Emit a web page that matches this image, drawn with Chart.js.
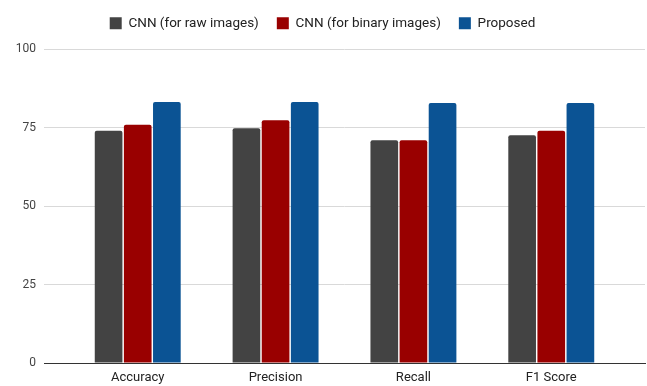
<!DOCTYPE html>
<html>
<head>
<meta charset="utf-8">
<script src="https://cdn.jsdelivr.net/npm/chart.js@4/dist/chart.umd.min.js"></script>
<style>
  html, body { margin: 0; padding: 0; background: #fff; }
  #wrap { position: relative; width: 647px; height: 386px; }
</style>
</head>
<body>
<div id="wrap"><canvas id="bar-chart"></canvas></div>
<script>
// metrics per model
const categories = ['Accuracy', 'Precision', 'Recall', 'F1 Score'];
const cnnRaw = [74.0, 74.8, 70.9, 72.5];
const cnnBinary = [75.9, 77.3, 70.9, 74.0];
const proposed = [83.1, 83.1, 82.8, 82.8];
const yTicks = [0, 25, 50, 75, 100];

// x is a linear axis so the groups can sit further in from the plot edges
const toPoints = (arr) => arr.map((v, i) => ({ x: i, y: v }));
const xPad = 0.68;

// extra room between the legend and the plot
const legendGap = {
  id: 'legendGap',
  afterInit(chart) {
    const legend = chart.legend;
    const fit = legend.fit.bind(legend);
    legend.fit = function () {
      fit();
      this.height += 9;
    };
  },
};

Chart.defaults.font.family = 'Roboto, Arial, sans-serif';
Chart.defaults.font.size = 13;

const ctx = document.getElementById('bar-chart').getContext('2d');
new Chart(ctx, {
  type: 'bar',
  data: {
    datasets: [
      { label: 'CNN (for raw images)', data: toPoints(cnnRaw), backgroundColor: '#434343' },
      { label: 'CNN (for binary images)', data: toPoints(cnnBinary), backgroundColor: '#990000' },
      { label: 'Proposed', data: toPoints(proposed), backgroundColor: '#0b5394' },
    ],
  },
  plugins: [legendGap],
  options: {
    responsive: true,
    maintainAspectRatio: false,
    animation: false,
    datasets: {
      bar: {
        categoryPercentage: 0.634,
        barPercentage: 0.95,
        borderRadius: { topLeft: 2, topRight: 2 },
        borderSkipped: 'start',
      },
    },
    layout: { padding: { top: -1.5, right: 2, bottom: 0, left: 0 } },
    plugins: {
      legend: {
        position: 'top',
        align: 'center',
        labels: {
          color: '#222',
          boxWidth: 12,
          boxHeight: 12,
          padding: 18,
          font: { size: 13.5 },
        },
      },
      tooltip: { enabled: false },
    },
    scales: {
      x: {
        type: 'linear',
        offset: false,
        min: -xPad,
        max: categories.length - 1 + xPad,
        afterBuildTicks: (scale) => {
          scale.ticks = categories.map((c, i) => ({ value: i }));
        },
        afterFit: (scale) => {
          scale.height = 23;
        },
        grid: { display: false, drawTicks: false, offset: false },
        border: { color: '#333', width: 1 },
        ticks: {
          color: '#222',
          padding: 7,
          callback: (v) => categories[v],
        },
      },
      y: {
        min: 0,
        max: 100,
        afterBuildTicks: (scale) => {
          scale.ticks = yTicks.map((v) => ({ value: v }));
        },
        afterFit: (scale) => {
          scale.width = 44;
        },
        border: { display: false },
        grid: {
          drawTicks: false,
          color: (c) => (c.tick && c.tick.value === 0 ? '#333' : '#d9d9d9'),
        },
        ticks: { color: '#444', padding: 8, font: { size: 12 } },
      },
    },
  },
});
</script>
</body>
</html>
